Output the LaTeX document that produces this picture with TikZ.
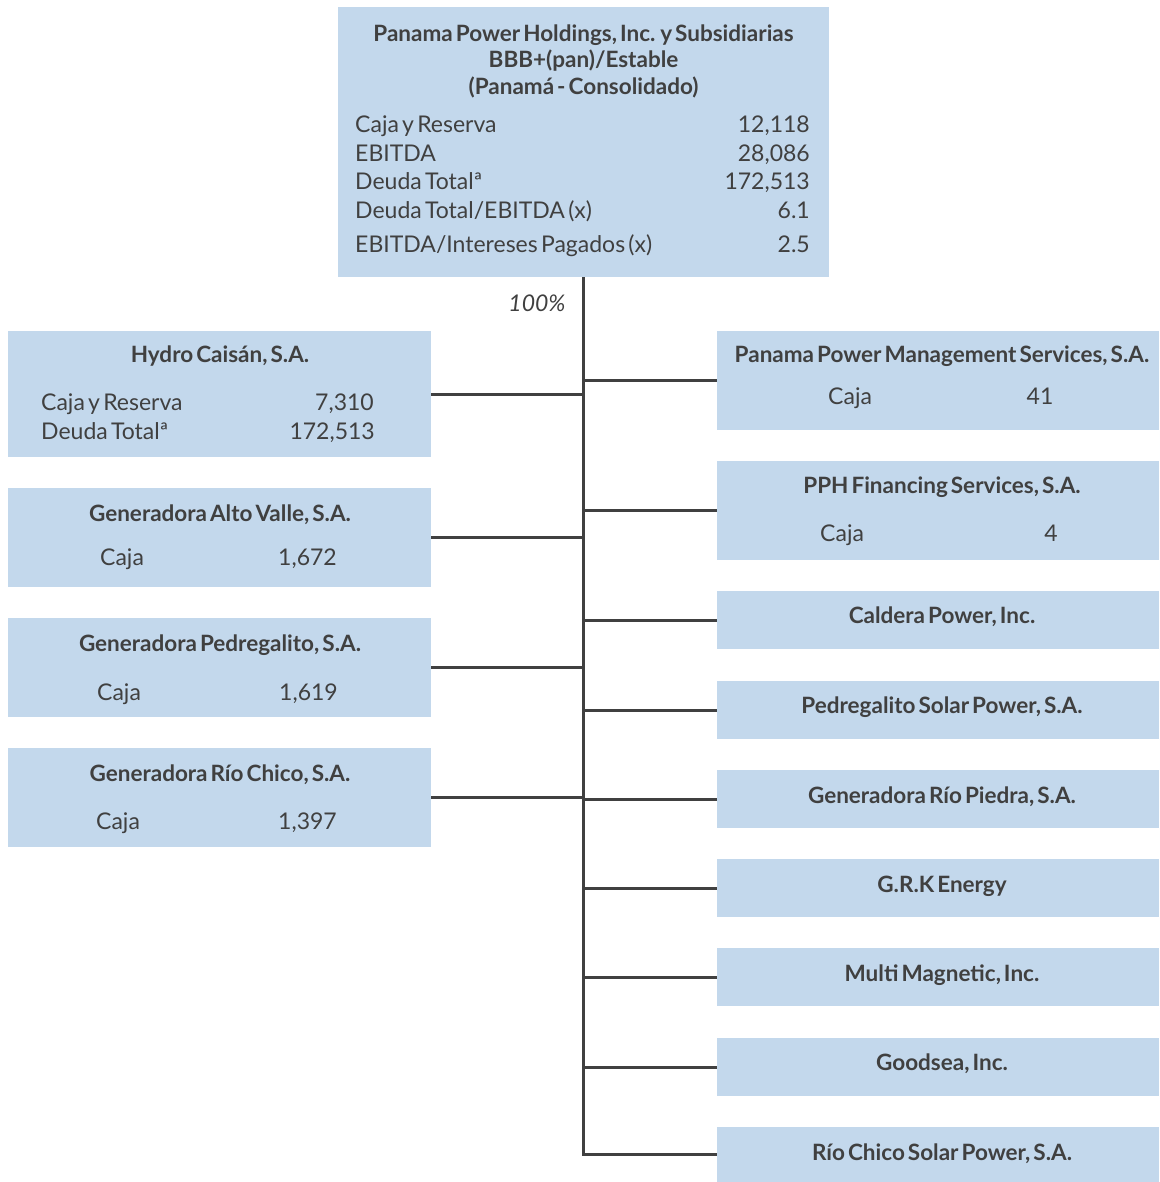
\documentclass[tikz,border=0pt]{standalone}
\usepackage{fontspec}
\setmainfont{Lato}[WordSpace=0.55]
\definecolor{boxblue}{HTML}{C3D8EC}
\definecolor{ink}{HTML}{404040}
\begin{document}
\begin{tikzpicture}[x=1pt,y=-1pt,
  box/.style={fill=boxblue, draw=none, inner sep=0pt, anchor=north west},
  ttl/.style={font=\bfseries\fontsize{22.5}{26.5}\selectfont, text=ink, inner sep=0pt, yshift=-2pt},
  txt/.style={font=\fontsize{23}{26}\selectfont, text=ink, inner sep=0pt},
  rowl/.style={txt, anchor=mid west, yshift=-6pt},
  rowr/.style={txt, anchor=mid east, yshift=-6pt},
  conn/.style={draw=ink, line width=2.6pt, line join=miter}]
\useasboundingbox (0,0) rectangle (1159,1182);
% top box
\node[box, minimum width=491, minimum height=270] (top) at (338,7) {};
\node[ttl, align=center] (toptitle) at (583.5,59) {Panama Power Holdings, Inc. y Subsidiarias\\BBB+(pan)/Estable\\(Panamá - Consolidado)};
\node[rowl] (l1) at (355,124) {Caja y Reserva};
\node[rowr] (v1) at (810,124) {12,118};
\node[rowl] (l2) at (355,153) {EBITDA};
\node[rowr] (v2) at (810,153) {28,086};
\node[rowl] (l3) at (355,181) {Deuda Totalª};
\node[rowr] (v3) at (810,181) {172,513};
\node[rowl] (l4) at (355,210) {Deuda Total/EBITDA (x)};
\node[rowr] (v4) at (810,210) {6.1};
\node[rowl] (l5) at (355,244) {EBITDA/Intereses Pagados (x)};
\node[rowr] (v5) at (810,244) {2.5};
\node[txt, font=\itshape\fontsize{23}{26}\selectfont] (pct) at (537,303) {100\%};
% left boxes
\node[box, minimum width=423, minimum height=126] (hydro) at (8,331) {};
\node[ttl] (hydrot) at (220,354) {Hydro Caisán, S.A.};
\node[rowl] (hl1) at (41,402) {Caja y Reserva};
\node[rowr] (hv1) at (374,402) {7,310};
\node[rowl] (hl2) at (41,431) {Deuda Totalª};
\node[rowr] (hv2) at (375,431) {172,513};
\node[box, minimum width=423, minimum height=99] (alto) at (8,488) {};
\node[ttl] (altot) at (220,513) {Generadora Alto Valle, S.A.};
\node[rowl] (al) at (100,557) {Caja};
\node[rowr] (av) at (337,557) {1,672};
\node[box, minimum width=423, minimum height=99] (pedr) at (8,618) {};
\node[ttl] (pedrt) at (220,643) {Generadora Pedregalito, S.A.};
\node[rowl] (pl) at (97,692) {Caja};
\node[rowr] (pv) at (338,692) {1,619};
\node[box, minimum width=423, minimum height=99] (rioc) at (8,748) {};
\node[ttl] (rioct) at (220,773) {Generadora Río Chico, S.A.};
\node[rowl] (rl) at (96,821) {Caja};
\node[rowr] (rv) at (337,821) {1,397};
% right boxes
\node[box, minimum width=442, minimum height=99] (ppms) at (717,331) {};
\node[ttl] (ppmst) at (942,354) {Panama Power Management Services, S.A.};
\node[rowl] (ppmsl) at (828,396) {Caja};
\node[txt] (ppmsv) at (1040,396) {41};
\node[box, minimum width=442, minimum height=99] (pph) at (717,461) {};
\node[ttl] (ppht) at (942,485) {PPH Financing Services, S.A.};
\node[rowl] (pphl) at (820,533) {Caja};
\node[txt] (pphv) at (1051,533) {4};
\node[box, minimum width=442, minimum height=58] (cald) at (717,591) {};
\node[ttl] (caldt) at (942,615) {Caldera Power, Inc.};
\node[box, minimum width=442, minimum height=58] (pss) at (717,681) {};
\node[ttl] (psst) at (942,705) {Pedregalito Solar Power, S.A.};
\node[box, minimum width=442, minimum height=58] (rpie) at (717,770) {};
\node[ttl] (rpiet) at (942,795) {Generadora Río Piedra, S.A.};
\node[box, minimum width=442, minimum height=58] (grk) at (717,859) {};
\node[ttl] (grkt) at (942,884) {G.R.K Energy};
\node[box, minimum width=442, minimum height=58] (multi) at (717,948) {};
\node[ttl] (multit) at (942,973) {Multi Magnetic, Inc.};
\node[box, minimum width=442, minimum height=58] (good) at (717,1038) {};
\node[ttl] (goodt) at (942,1062) {Goodsea, Inc.};
\node[box, minimum width=442, minimum height=55] (rcs) at (717,1127) {};
\node[ttl] (rcst) at (942,1152) {Río Chico Solar Power, S.A.};
% connectors
\draw[conn] (top.south) -- (rcs.west -| top.south) -- (rcs.west);
\foreach \n in {hydro,alto,pedr,rioc}
  \draw[conn] (\n.east) -- (\n.east -| top.south);
\foreach \n in {ppms,pph,cald,pss,rpie,grk,multi,good}
  \draw[conn] (\n.west -| top.south) -- (\n.west);
\end{tikzpicture}
\end{document}
